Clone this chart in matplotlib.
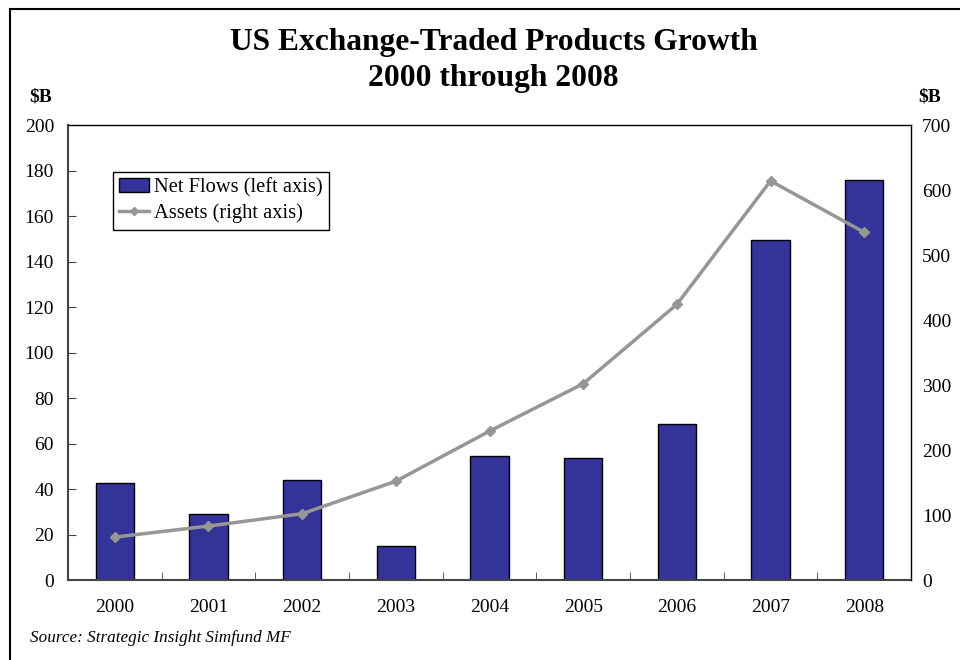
import matplotlib.pyplot as plt
from matplotlib.lines import Line2D
import numpy as np

plt.rcParams['font.family'] = ['Liberation Serif', 'DejaVu Serif']

# data
years = ['2000', '2001', '2002', '2003', '2004', '2005', '2006', '2007', '2008']
net_flows = [42.6, 29.0, 44.0, 14.8, 54.5, 53.8, 68.6, 149.5, 176.0]   # $B, left axis
assets = [66, 83, 102, 152, 229, 302, 424, 614, 535]                  # $B, right axis

fig = plt.figure(figsize=(9.6, 6.6), dpi=100)
ax = fig.add_axes([0.0708, 0.1212, 0.8782, 0.6894])
ax2 = ax.twinx()

x = np.arange(len(years))
bars = ax.bar(x, net_flows, width=0.41, color='#333399', edgecolor='black', linewidth=1.0,
              label='Net Flows (left axis)', zorder=2)
ax2.plot(x, assets, color='#969696', linewidth=2.5, marker='D', markersize=5,
         label='Assets (right axis)', zorder=3)

ax.set_xlim(-0.5, len(years) - 0.5)
ax.set_ylim(0, 200)
ax.set_yticks(range(0, 201, 20))
ax2.set_ylim(0, 700)
ax2.set_yticks(range(0, 701, 100))

# category labels centred, ticks between categories
ax.set_xticks(x)
ax.set_xticklabels(years)
ax.set_xticks(np.arange(-0.5, len(years), 1), minor=True)
ax.tick_params(axis='x', which='major', length=0, labelsize=14, pad=14)
ax.tick_params(axis='x', which='minor', direction='in', length=6, color='#444444')
ax.tick_params(axis='y', direction='in', length=6, labelsize=14, pad=10, color='#444444')
ax2.tick_params(axis='y', direction='in', length=0, labelsize=14, pad=8)

for s in ['left', 'bottom']:
    ax.spines[s].set_color('#444444')
    ax.spines[s].set_linewidth(1.5)
for s in ['top', 'right']:
    ax2.spines[s].set_color('black')
    ax2.spines[s].set_linewidth(1.0)
ax2.spines['left'].set_visible(False)
ax2.spines['bottom'].set_visible(False)
ax.spines['top'].set_visible(False)
ax.spines['right'].set_visible(False)

handles = [bars, Line2D([], [], color='#969696', linewidth=2.5, marker='D', markersize=4)]
leg = ax.legend(handles, ['Net Flows (left axis)', 'Assets (right axis)'],
                loc='upper left', bbox_to_anchor=(0.053, 0.897), borderaxespad=0,
                fontsize=14.8, frameon=True, fancybox=False, edgecolor='black', framealpha=1,
                handlelength=1.45, handletextpad=0.25, borderpad=0.3, labelspacing=0.3)
leg.get_frame().set_linewidth(1.0)

fig.text(0.514, 0.936, 'US Exchange-Traded Products Growth', ha='center', va='center',
         fontsize=22.7, fontweight='bold')
fig.text(0.514, 0.881, '2000 through 2008', ha='center', va='center',
         fontsize=22.7, fontweight='bold')
fig.text(0.042, 0.853, '$B', ha='center', va='center', fontsize=14, fontweight='bold')
fig.text(0.968, 0.853, '$B', ha='center', va='center', fontsize=14, fontweight='bold')
fig.text(0.031, 0.033, 'Source: Strategic Insight Simfund MF', ha='left', va='center',
         fontsize=12.3, style='italic')

# outer frame (left and top edges visible in the reference)
fig.add_artist(Line2D([0.0105, 0.0105], [0.0, 0.987], transform=fig.transFigure, color='black', linewidth=1.5))
fig.add_artist(Line2D([0.0105, 1.0], [0.987, 0.987], transform=fig.transFigure, color='black', linewidth=1.5))

fig.savefig('out.png', dpi=100)
